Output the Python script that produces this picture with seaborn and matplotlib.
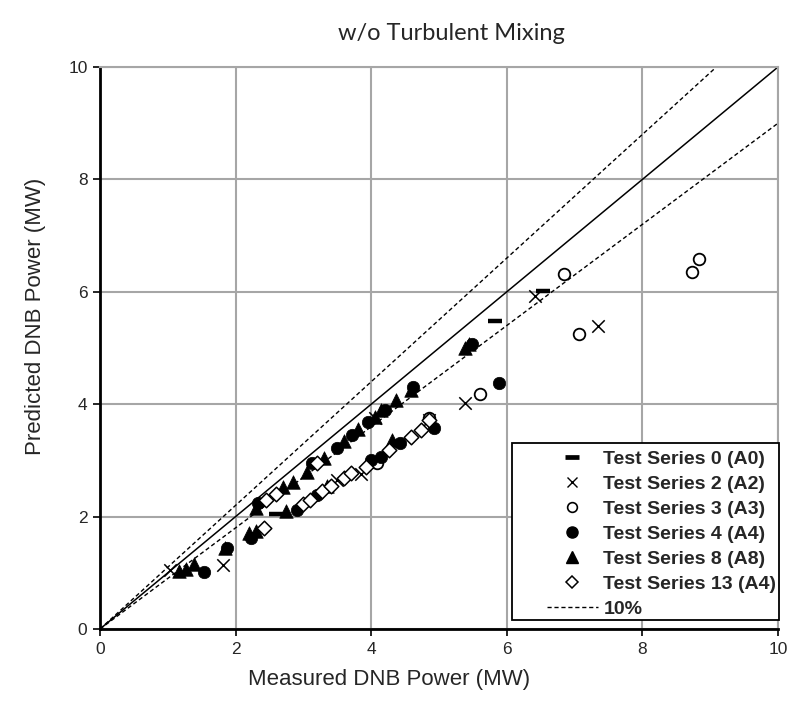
import matplotlib
matplotlib.use("Agg")
import matplotlib.pyplot as plt
from matplotlib.lines import Line2D
from matplotlib.patches import Rectangle
import numpy as np
import seaborn as sns

# ---- data: measured vs predicted DNB power (MW) ----
s0_x = [2.60, 5.83, 6.53]
s0_y = [2.04, 5.48, 6.02]

s2_x = [1.03, 1.82, 3.50, 3.85, 4.85, 5.39, 6.42, 7.34, 4.05]
s2_y = [1.05, 1.14, 2.65, 2.76, 3.72, 4.02, 5.93, 5.40, 3.76]

s3_x = [4.09, 4.85, 5.61, 6.84, 7.06, 8.73, 8.83]
s3_y = [2.95, 3.75, 4.18, 6.32, 5.25, 6.35, 6.58]

s4_x = [2.33, 3.12, 3.50, 3.72, 3.95, 4.20, 4.62, 5.48,
        1.54, 1.88, 2.22, 2.90, 3.20, 4.00, 4.14, 4.43, 4.92, 5.88]
s4_y = [2.24, 2.95, 3.22, 3.45, 3.68, 3.90, 4.30, 5.07,
        1.01, 1.45, 1.62, 2.12, 2.38, 3.00, 3.06, 3.31, 3.58, 4.38]

s8_x = [1.17, 1.27, 1.38, 2.30, 2.70, 2.85, 3.05, 3.30, 3.60, 3.80,
        4.05, 4.14, 4.36, 4.58, 5.38, 5.44,
        1.84, 2.20, 2.30, 2.75, 3.35, 4.31]
s8_y = [1.04, 1.07, 1.15, 2.15, 2.52, 2.62, 2.80, 3.05, 3.35, 3.55,
        3.78, 3.90, 4.07, 4.26, 5.00, 5.07,
        1.45, 1.70, 1.75, 2.10, 2.55, 3.36]

s13_x = [2.42, 3.00, 3.10, 3.28, 3.40, 3.60, 3.70, 3.92, 4.26, 4.58, 4.73,
         4.85, 2.45, 2.60, 3.20]
s13_y = [1.80, 2.22, 2.30, 2.45, 2.55, 2.68, 2.78, 2.88, 3.18, 3.42, 3.54,
         3.72, 2.30, 2.40, 2.95]

series_labels = ["Test Series 0 (A0)", "Test Series 2 (A2)", "Test Series 3 (A3)",
                 "Test Series 4 (A4)", "Test Series 8 (A8)", "Test Series 13 (A4)"]

ref_x = [0, 10, 11]
band_pct = 10

sns.set_theme(style="white")
plt.rcParams["font.family"] = ["Liberation Sans", "DejaVu Sans"]

W, H = 807, 710
fig = plt.figure(figsize=(W / 100, H / 100), dpi=100)
ax = fig.add_axes([100 / W, 81 / H, 678 / W, 562 / H])


def fx(px):
    return px / W


def fy(py):
    return 1 - py / H


# grid
ax.set_xlim(0, 10)
ax.set_ylim(0, 10)
ax.set_xticks(np.arange(0, 11, 2))
ax.set_yticks(np.arange(0, 11, 2))
ax.grid(True, color="#a6a6a6", linewidth=1.5)
ax.set_axisbelow(True)

# reference lines: perfect agreement and +/-10 %
rx = np.array(ref_x, dtype=float)
sns.lineplot(x=rx, y=rx, ax=ax, color="black", linewidth=1.1, legend=False)
sns.lineplot(x=rx, y=rx * (1 + band_pct / 100), ax=ax, color="black",
             linewidth=1.0, linestyle=(0, (3, 2)), legend=False)
sns.lineplot(x=rx, y=rx * (1 - band_pct / 100), ax=ax, color="black",
             linewidth=1.0, linestyle=(0, (3, 2)), legend=False)

# series markers
sns.scatterplot(x=s0_x, y=s0_y, ax=ax, marker="_", s=90, color="black",
                linewidth=3.2, legend=False, zorder=5)
sns.scatterplot(x=s2_x, y=s2_y, ax=ax, marker="x", s=80, color="black",
                linewidth=1.1, legend=False, zorder=5)
sns.scatterplot(x=s3_x, y=s3_y, ax=ax, marker="o", s=70, facecolor="white",
                edgecolor="black", linewidth=1.3, legend=False, zorder=5)
sns.scatterplot(x=s4_x, y=s4_y, ax=ax, marker="o", s=80, color="black",
                edgecolor="black", linewidth=0.5, legend=False, zorder=5)
sns.scatterplot(x=s8_x, y=s8_y, ax=ax, marker="^", s=95, color="black",
                edgecolor="black", linewidth=0.5, legend=False, zorder=5)
sns.scatterplot(x=s13_x, y=s13_y, ax=ax, marker="D", s=55, facecolor="white",
                edgecolor="black", linewidth=1.1, legend=False, zorder=5)

# axes frame
for side in ["top", "right"]:
    ax.spines[side].set_color("#a6a6a6")
    ax.spines[side].set_linewidth(1.5)
for side in ["left", "bottom"]:
    ax.spines[side].set_color("black")
    ax.spines[side].set_linewidth(2.0)
ax.tick_params(axis="both", direction="out", length=5, width=1.2,
               color="black", labelsize=12.5, pad=4, bottom=True, left=True)

# titles and axis labels
fig.text(fx(389), fy(680), "Measured DNB Power (MW)", ha="center",
         va="center", fontsize=16)
fig.text(fx(36), fy(316), "Predicted DNB Power (MW)", ha="center",
         va="center", rotation=90, fontsize=16)
fig.text(fx(451), fy(34), "w/o Turbulent Mixing", ha="center",
         va="center", fontsize=17, family=["Lato", "DejaVu Sans"])

# legend
handles = [
    Line2D([], [], linestyle="none", marker="_", markersize=10,
           markeredgewidth=3.4, color="black"),
    Line2D([], [], linestyle="none", marker="x", markersize=7,
           markeredgewidth=1.0, color="black"),
    Line2D([], [], linestyle="none", marker="o", markersize=7,
           markerfacecolor="white", markeredgecolor="black", markeredgewidth=1.2),
    Line2D([], [], linestyle="none", marker="o", markersize=8, color="black"),
    Line2D([], [], linestyle="none", marker="^", markersize=8.5, color="black"),
    Line2D([], [], linestyle="none", marker="D", markersize=6.5,
           markerfacecolor="white", markeredgecolor="black", markeredgewidth=1.1),
    Line2D([], [], color="black", linewidth=1.0, linestyle=(0, (3, 2))),
]
labels = series_labels + [f"{band_pct}%"]
fig.patches.append(Rectangle((fx(512), fy(620)), fx(779) - fx(512),
                             fy(443) - fy(620), transform=fig.transFigure,
                             facecolor="white", edgecolor="black",
                             linewidth=1.3, zorder=10))
leg = fig.legend(handles, labels, loc="upper left",
                 bbox_to_anchor=(fx(547), fy(450)), frameon=False,
                 borderpad=0, borderaxespad=0,
                 handlelength=2.6, handletextpad=0.3, labelspacing=0.38,
                 prop={"weight": "bold", "size": 14})
leg.set_zorder(11)

fig.savefig("out.png", dpi=100)
